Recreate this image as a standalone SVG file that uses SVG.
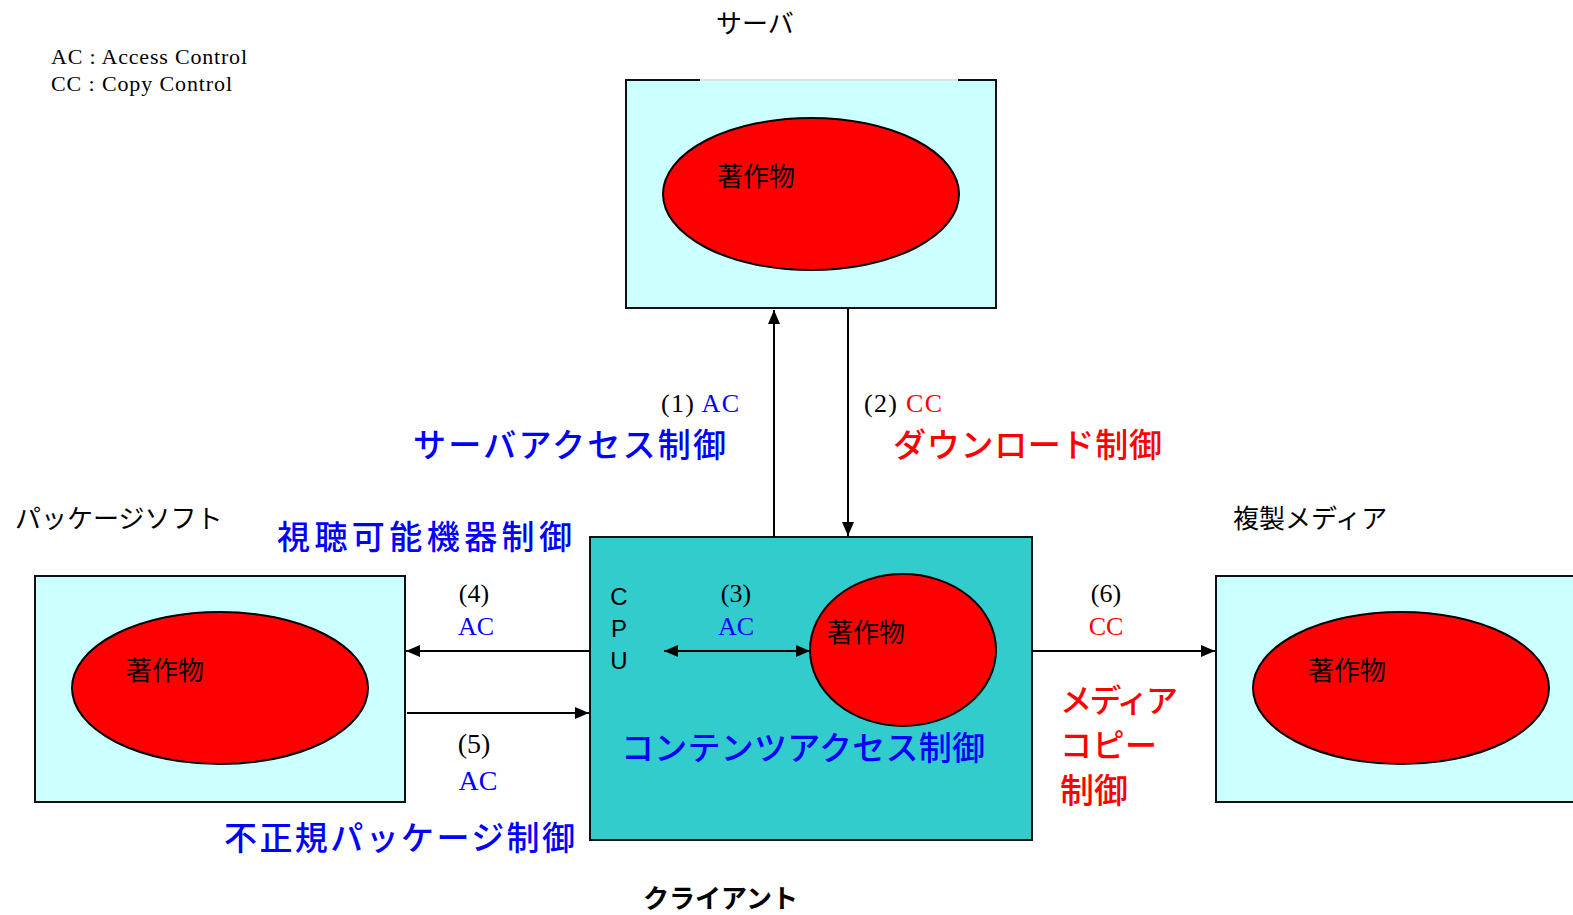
<svg xmlns="http://www.w3.org/2000/svg" width="1573" height="915" viewBox="0 0 1573 915">
<style>
.box{fill:#CCFFFF;stroke:#111;stroke-width:2}
.cbox{fill:#33CCCC;stroke:#111;stroke-width:2}
.work{fill:#FF0000;stroke:#000;stroke-width:2}
.wk{font-family:"Noto Sans CJK JP",sans-serif;font-size:26px;fill:#000}
.lbl{font-family:"Noto Sans CJK JP",sans-serif;font-size:26px;fill:#000}
.big{font-family:"Noto Sans CJK JP",sans-serif;font-size:33px;font-weight:500}
.blue{fill:#0000FF}
.red{fill:#FF0000}
.ser{font-family:"Liberation Serif","DejaVu Serif",serif;font-size:26px}
.k{fill:#000}
.cpu{font-family:"Liberation Sans",sans-serif;font-size:24px;fill:#000}
.ln{stroke:#000;stroke-width:2;fill:none}
</style>
<defs>
<marker id="ah" viewBox="0 0 14 12" refX="14" refY="6" markerWidth="14" markerHeight="12" markerUnits="userSpaceOnUse" orient="auto-start-reverse">
<path d="M0,0 L14,6 L0,12 Z" fill="#000"/>
</marker>
</defs>
<rect width="1573" height="915" fill="#fff"/>
<text x="51" y="64" textLength="196" style="font-family:'Liberation Serif',serif;font-size:22px" fill="#000">AC : Access Control</text>
<text x="51" y="91" textLength="181" style="font-family:'Liberation Serif',serif;font-size:22px" fill="#000">CC : Copy Control</text>

<g id="server">
<rect class="box" x="626" y="80" width="370" height="228"/>
<line x1="700" y1="80" x2="958" y2="80" stroke="#d9e4e4" stroke-width="2.2"/>
<ellipse class="work" cx="811" cy="194" rx="148" ry="76"/>
<text class="wk" x="717" y="186">著作物</text>
<text class="lbl" x="716" y="33">サーバ</text>
</g>

<g id="client">
<rect class="cbox" x="590" y="537" width="442" height="303"/>
<ellipse class="work" cx="903" cy="650" rx="93" ry="76"/>
<text class="wk" x="827" y="642">著作物</text>
<text class="cpu" x="619" y="605" text-anchor="middle">C</text>
<text class="cpu" x="619" y="637" text-anchor="middle">P</text>
<text class="cpu" x="619" y="669" text-anchor="middle">U</text>
<text class="big blue" x="621" y="760" textLength="364">コンテンツアクセス制御</text>
<text class="lbl" x="643" y="908" font-weight="bold">クライアント</text>
</g>

<g id="package">
<rect class="box" x="35" y="576" width="370" height="226"/>
<ellipse class="work" cx="220" cy="688" rx="148" ry="76"/>
<text class="wk" x="126" y="680">著作物</text>
<text class="lbl" x="15" y="528">パッケージソフト</text>
</g>

<g id="media">
<rect class="box" x="1216" y="576" width="370" height="226"/>
<ellipse class="work" cx="1401" cy="688" rx="148" ry="76"/>
<text class="wk" x="1308" y="680">著作物</text>
<text class="lbl" x="1233" y="528">複製メディア</text>
</g>

<g id="connectors">
<line class="ln" x1="774" y1="537" x2="774" y2="310" marker-end="url(#ah)"/>
<line class="ln" x1="848" y1="308" x2="848" y2="536" marker-end="url(#ah)"/>
<line class="ln" x1="664" y1="651" x2="810" y2="651" marker-start="url(#ah)" marker-end="url(#ah)"/>
<line class="ln" x1="590" y1="651" x2="406" y2="651" marker-end="url(#ah)"/>
<line class="ln" x1="407" y1="713" x2="589" y2="713" marker-end="url(#ah)"/>
<line class="ln" x1="1032" y1="651" x2="1215" y2="651" marker-end="url(#ah)"/>
</g>

<g id="labels">
<text class="ser" x="661" y="412" textLength="78"><tspan class="k">(1) </tspan><tspan class="blue">AC</tspan></text>
<text class="ser" x="864" y="412" textLength="78"><tspan class="k">(2) </tspan><tspan class="red">CC</tspan></text>
<text class="big blue" x="413" y="457" textLength="313">サーバアクセス制御</text>
<text class="big red" x="893" y="457" textLength="269">ダウンロード制御</text>
<text class="big blue" x="277" y="549" textLength="295">視聴可能機器制御</text>
<text class="big blue" x="224" y="850" textLength="351">不正規パッケージ制御</text>
<text class="ser k" x="736" y="602" text-anchor="middle">(3)</text>
<text class="ser blue" x="736" y="635" text-anchor="middle">AC</text>
<text class="ser k" x="474" y="602" text-anchor="middle">(4)</text>
<text class="ser blue" x="476" y="635" text-anchor="middle">AC</text>
<text class="ser k" x="474" y="753" text-anchor="middle" style="font-size:28px">(5)</text>
<text class="ser blue" x="478" y="790" text-anchor="middle" style="font-size:28px">AC</text>
<text class="ser k" x="1106" y="602" text-anchor="middle">(6)</text>
<text class="ser red" x="1106" y="635" text-anchor="middle">CC</text>
<text class="big red" x="1060" y="712" style="font-size:32px" textLength="118">メディア</text>
<text class="big red" x="1060" y="757" style="font-size:32px" textLength="97">コピー</text>
<text class="big red" x="1060" y="803" style="font-size:34px">制御</text>
</g>
</svg>
